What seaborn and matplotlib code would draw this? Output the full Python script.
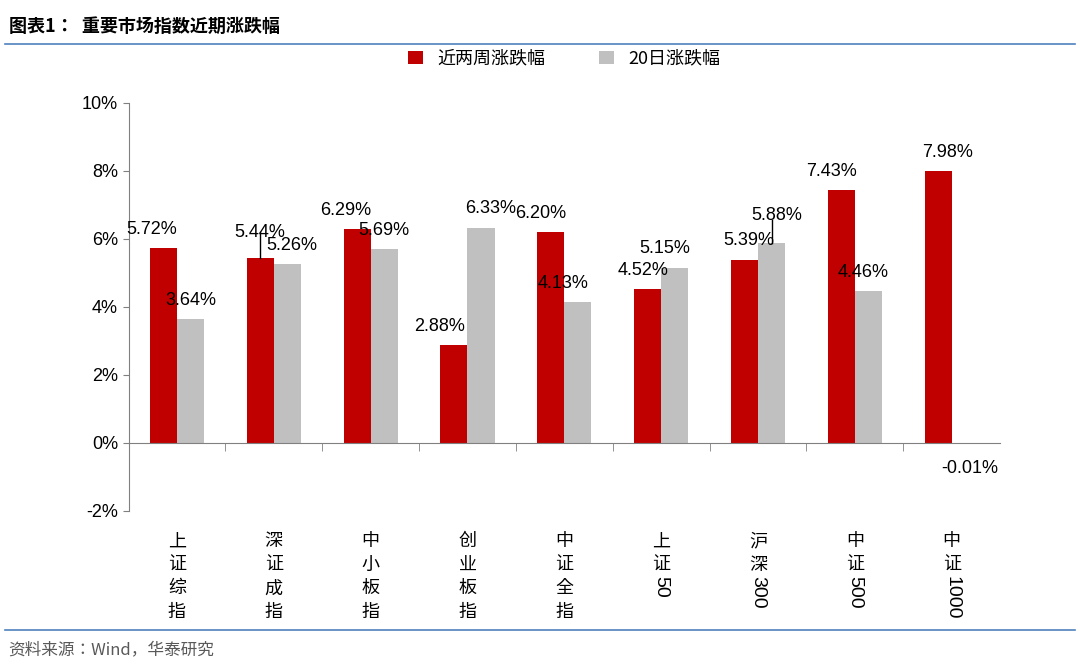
import matplotlib
matplotlib.use("Agg")
import matplotlib.pyplot as plt
from matplotlib import font_manager
import seaborn as sns
import pandas as pd
import numpy as np

# find a CJK font file so Chinese renders
cjk = [f for f in font_manager.fontManager.ttflist if "CJK" in f.name]
cjk_sc = [f for f in cjk if "SC" in f.name] or cjk
cjk_name = cjk_sc[0].name if cjk_sc else "DejaVu Sans"
plt.rcParams["font.family"] = [cjk_name, "DejaVu Sans"]
num_font = "Liberation Sans"

categories = ["上证综指", "深证成指", "中小板指", "创业板指", "中证全指", "上证50", "沪深300", "中证500", "中证1000"]
label_chars = [("上证综指", ""), ("深证成指", ""), ("中小板指", ""), ("创业板指", ""), ("中证全指", ""),
               ("上证", "50"), ("沪深", "300"), ("中证", "500"), ("中证", "1000")]
two_week = [5.72, 5.44, 6.29, 2.88, 6.20, 4.52, 5.39, 7.43, 7.98]
twenty_day = [3.64, 5.26, 5.69, 6.33, 4.13, 5.15, 5.88, 4.46, -0.01]
series_names = ["近两周涨跌幅", "20日涨跌幅"]

df = pd.DataFrame({
    "cat": categories * 2,
    "val": two_week + twenty_day,
    "series": [series_names[0]] * 9 + [series_names[1]] * 9,
})

fig = plt.figure(figsize=(10.8, 6.72), dpi=100)
ax = fig.add_axes([0.119, 0.24, 0.807, 0.607])
sns.barplot(data=df, x="cat", y="val", hue="series", palette=["#C00000", "#C0C0C0"],
            width=0.56, ax=ax, saturation=1)

ax.set_ylim(-2, 10)
ax.set_xlim(-0.5, 8.5)
ax.set_yticks(range(-2, 11, 2))
ax.set_yticklabels([f"{v}%" for v in range(-2, 11, 2)], fontsize=13, family=num_font)
ax.set_xlabel("")
ax.set_ylabel("")
ax.set_xticks([])
ax.set_xticks(np.arange(0.5, 8.5, 1), minor=True)
ax.tick_params(axis="x", which="minor", length=6, direction="out", color="#808080")
ax.tick_params(axis="y", length=4, color="#808080")
for s in ["top", "right"]:
    ax.spines[s].set_visible(False)
ax.spines["bottom"].set_position(("data", 0))
ax.spines["bottom"].set_color("#808080")
ax.spines["left"].set_color("#808080")

off = 0.14
red_pos = [(-0.12, 0.55), (0.0, 0.75), (-0.12, 0.55), (-0.15, 0.55), (-0.1, 0.55),
           (-0.05, 0.55), (0.05, 0.55), (-0.1, 0.55), (0.1, 0.55)]
gray_pos = [(0.0, 0.55), (0.05, 0.55), (0.0, 0.55), (0.1, 0.55), (-0.15, 0.55),
            (-0.1, 0.55), (0.05, 0.8), (-0.05, 0.55), (0.05, -0.75)]
for i in range(9):
    dx, dy = red_pos[i]
    ax.text(i - off + dx, two_week[i] + dy, f"{two_week[i]:.2f}%", ha="center", va="center",
            fontsize=13, family=num_font)
    dx, dy = gray_pos[i]
    ax.text(i + off + dx, twenty_day[i] + dy, f"{twenty_day[i]:.2f}%", ha="center", va="center",
            fontsize=13, family=num_font)
ax.plot([1 - off, 1 - off], [5.44, 6.2], color="black", lw=1)
ax.plot([6 + off, 6 + off], [5.88, 6.55], color="black", lw=1)

for i, (chars, digits) in enumerate(label_chars):
    x = ax.transData.transform((i, 0))[0] / 1080
    y0 = 0.208
    for c in chars:
        fig.text(x, y0, c, ha="center", va="top", fontsize=13)
        y0 -= 0.035
    if digits:
        fig.text(x, y0 + 0.005, digits, ha="center", va="top",
                 rotation=-90, fontsize=14, family=num_font)

ax.legend(loc="upper center", bbox_to_anchor=(0.5, 1.17), ncol=2, frameon=False,
          fontsize=13, handlelength=0.8, handleheight=0.8, columnspacing=3)

fig.text(0.008, 0.975, "图表1：  重要市场指数近期涨跌幅", fontsize=13, fontweight="bold", va="top")
fig.add_artist(plt.Line2D([0.005, 0.995], [0.935, 0.935], color="#4F81BD", lw=1.2))
fig.add_artist(plt.Line2D([0.005, 0.995], [0.062, 0.062], color="#4F81BD", lw=1.2))
fig.text(0.008, 0.045, "资料来源：Wind，华泰研究", fontsize=12, color="#595959", va="top")

fig.savefig("out.png", dpi=100)
